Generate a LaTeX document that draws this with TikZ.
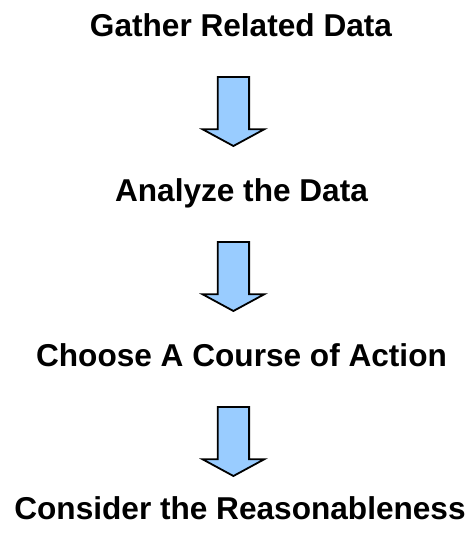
\documentclass[tikz,border=0pt]{standalone}
\usepackage{fontspec}
\setmainfont{Liberation Sans}
\definecolor{arrowfill}{RGB}{153,204,255}
\tikzset{
  steptext/.style={font=\bfseries\fontsize{31.6}{38}\selectfont, anchor=base, inner sep=0pt},
  downarrow/.pic={
    \draw[line width=1.8pt, fill=arrowfill, line join=miter]
      (-15.7,0) -- (15.7,0) -- (15.7,52.3) -- (30.8,52.3)
      -- (0,69) -- (-30.8,52.3) -- (-15.7,52.3) -- cycle;
  }
}
\begin{document}
\begin{tikzpicture}[x=1pt,y=-1pt]
  \useasboundingbox (0,0) rectangle (473,534);
  % step labels
  \node[steptext] (gather)   at (241,36.7)  {Gather Related Data};
  \node[steptext] (analyze)  at (241.5,201.7) {Analyze the Data};
  \node[steptext] (choose)   at (241.5,366.7) {Choose A Course of Action};
  \node[steptext] (consider) at (240,519)   {Consider the Reasonableness};
  % block arrows between the steps
  \coordinate (a1) at (233.4,77);
  \coordinate (a2) at (233.4,242);
  \coordinate (a3) at (233.4,407);
  \pic at (a1) {downarrow};
  \pic at (a2) {downarrow};
  \pic at (a3) {downarrow};
\end{tikzpicture}
\end{document}
